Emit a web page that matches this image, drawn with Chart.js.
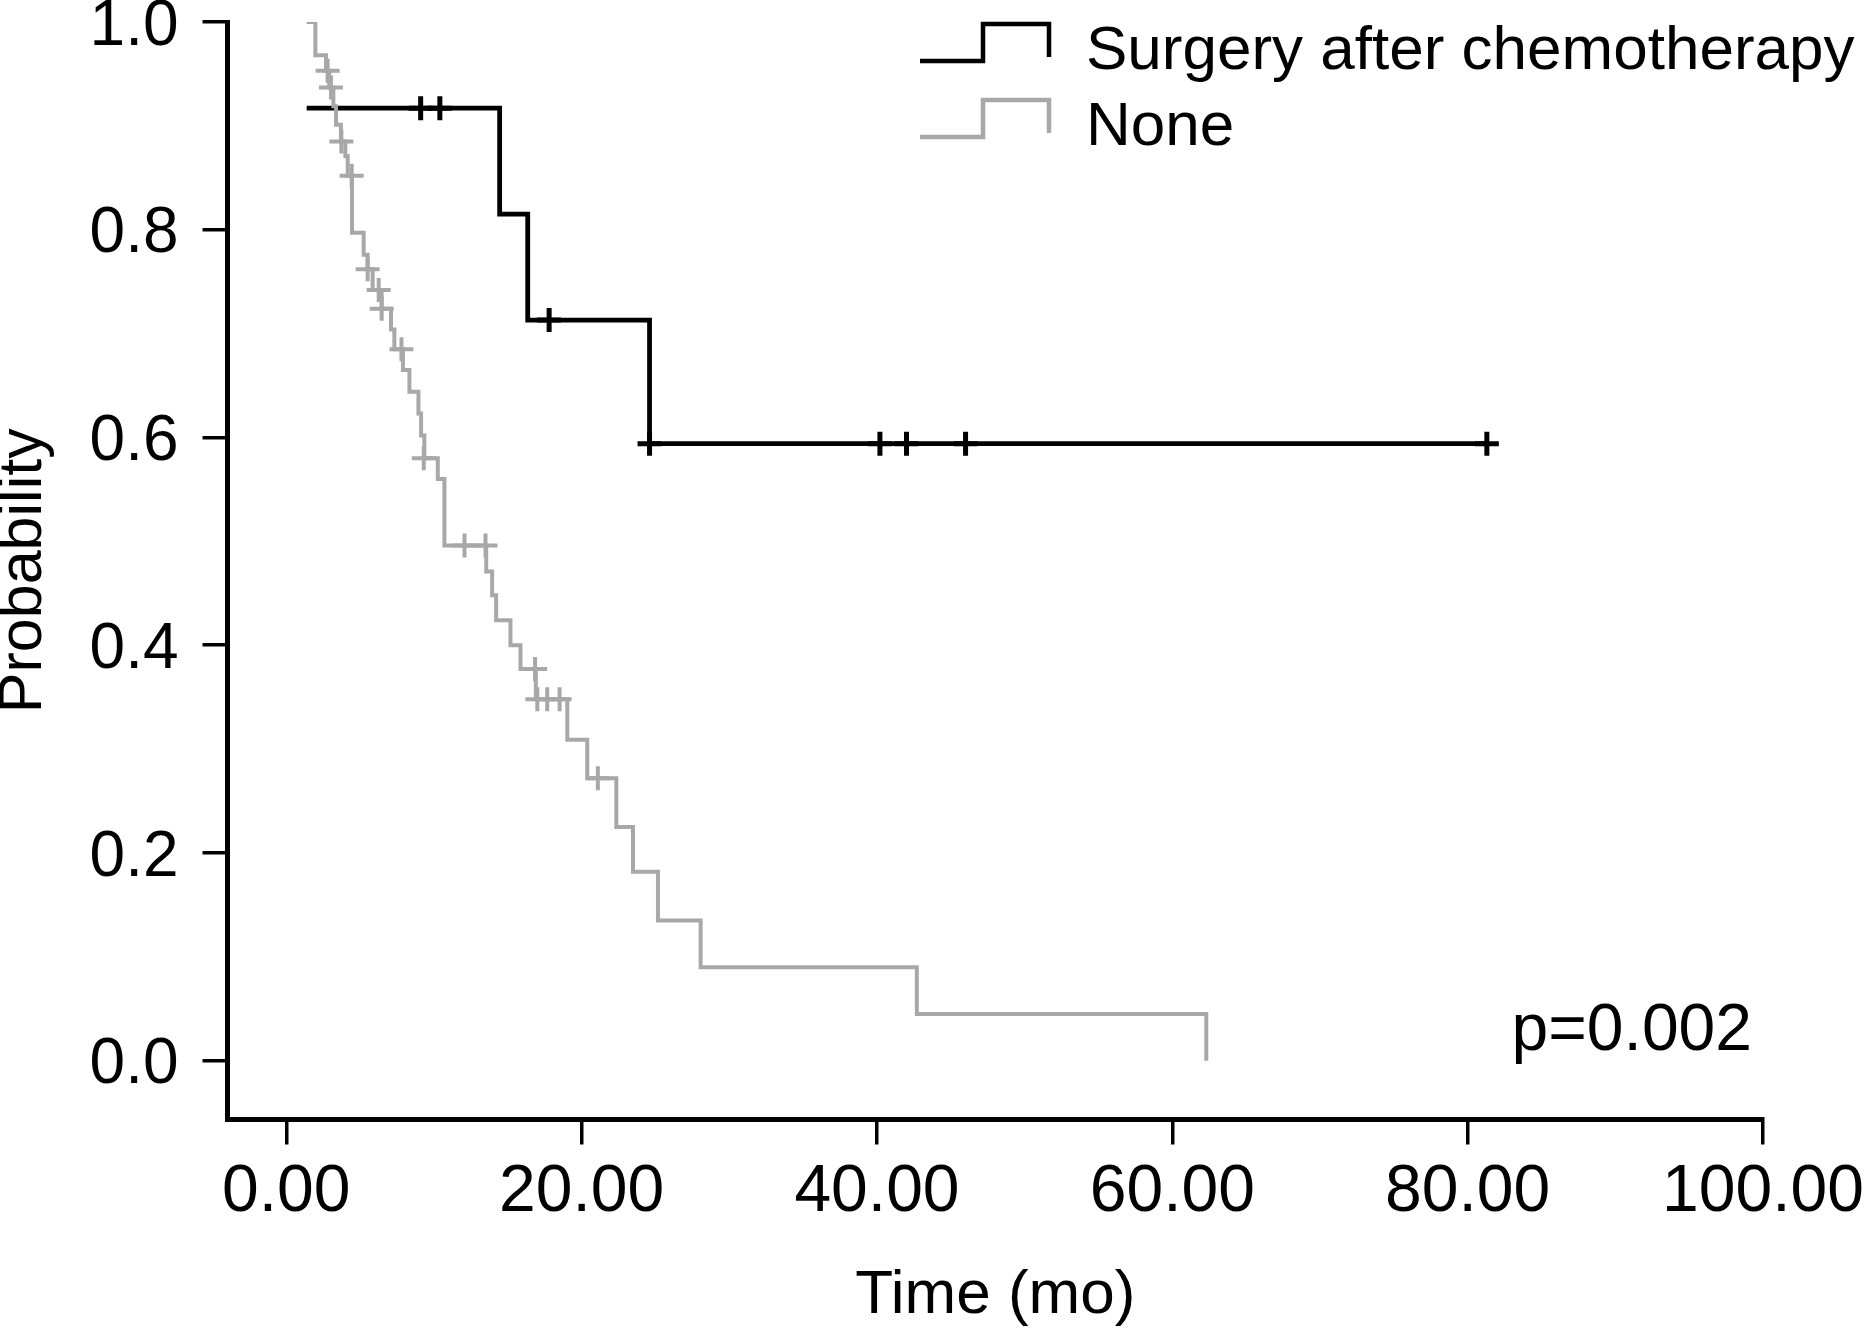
<!DOCTYPE html>
<html>
<head>
<meta charset="utf-8">
<title>Kaplan-Meier: surgery after chemotherapy</title>
<script src="https://cdn.jsdelivr.net/npm/chart.js@4.4.1/dist/chart.umd.min.js"></script>
<style>
  html, body { margin: 0; padding: 0; background: #fff; }
  #wrap { width: 1867px; height: 1330px; position: relative; }
</style>
</head>
<body>
<div id="wrap"><canvas id="km"></canvas></div>
<script>
var groups = ["Surgery after chemotherapy", "None"];
var pValue = "p=0.002";

// surgery after chemotherapy: step times (mo) and survival after each step
var surgeryTime = [1.38, 14.45, 16.35, 24.6, 81.3];
var surgerySurv = [0.917, 0.815, 0.713, 0.594, 0.594];
var surgeryCensorTime = [9.1, 10.4, 17.8, 24.6, 40.2, 42.0, 46.0, 81.3];
var surgeryCensorSurv = [0.917, 0.917, 0.713, 0.594, 0.594, 0.594, 0.594, 0.594];

// no surgery
var noneTime = [1.38, 1.97, 2.69, 2.91, 3.19, 3.37, 3.70, 4.00, 4.16, 4.45, 5.24, 5.51, 5.85,
                6.46, 7.09, 7.32, 7.90, 8.34, 8.95, 9.13, 9.35, 10.26, 10.71, 13.54, 13.94,
                14.21, 15.18, 15.86, 16.9, 19.03, 20.38, 22.35, 23.48, 25.17, 28.06, 42.7, 62.3];
var noneSurv = [1.0, 0.968, 0.953, 0.937, 0.919, 0.901, 0.885, 0.871, 0.852, 0.797, 0.776, 0.762, 0.742,
                0.724, 0.704, 0.685, 0.665, 0.644, 0.623, 0.602, 0.580, 0.560, 0.496, 0.471, 0.448,
                0.424, 0.400, 0.377, 0.348, 0.309, 0.272, 0.225, 0.182, 0.135, 0.090, 0.045, 0.0];
var noneCensorTime = [2.80, 3.03, 3.73, 4.43, 5.51, 6.26, 6.46, 7.80, 9.31, 12.07, 13.49,
                      16.85, 17.0, 17.67, 18.51, 21.1];
var noneCensorSurv = [0.953, 0.937, 0.885, 0.852, 0.762, 0.742, 0.724, 0.685, 0.580, 0.496, 0.496,
                      0.377, 0.348, 0.348, 0.348, 0.272];

var xTicks = [0, 20, 40, 60, 80, 100];
var yTicks = [0, 0.2, 0.4, 0.6, 0.8, 1.0];

var black = "#000000";
var grey = "#a8a8a8";
var fontFam = '"Liberation Sans", Arial, sans-serif';

function pts(xs, ys) {
    return xs.map(function (x, i) { return { x: x, y: ys[i] }; });
}

// legend with step icons + p value, drawn on the canvas
var kmLegend = {
    id: "kmLegend",
    afterDraw: function (chart) {
        var ctx = chart.ctx;
        var colors = [black, grey];
        ctx.save();
        for (var r = 0; r < groups.length; r++) {
            var top = 24 + 76 * r, bot = 61 + 76 * r;
            ctx.strokeStyle = colors[r];
            ctx.lineWidth = 4.5;
            ctx.beginPath();
            ctx.moveTo(920, bot);
            ctx.lineTo(983, bot);
            ctx.lineTo(983, top);
            ctx.lineTo(1049, top);
            ctx.lineTo(1049, bot - 4);
            ctx.stroke();
            ctx.fillStyle = black;
            ctx.font = "62px " + fontFam;
            ctx.textAlign = "left";
            ctx.textBaseline = "alphabetic";
            ctx.fillText(groups[r], 1086, 69 + 76 * r);
        }
        ctx.font = "66px " + fontFam;
        ctx.textAlign = "right";
        ctx.fillText(pValue, 1752, 1050);
        ctx.restore();
    }
};

var chart = new Chart(document.getElementById("km"), {
    type: "scatter",
    data: {
        datasets: [
            {
                label: groups[1],
                data: pts(noneTime, noneSurv),
                showLine: true, stepped: true,
                borderColor: grey, borderWidth: 4,
                pointRadius: 0, fill: false
            },
            {
                label: groups[1] + " censored",
                data: pts(noneCensorTime, noneCensorSurv),
                showLine: false, pointStyle: "cross",
                pointRadius: 12, pointBorderWidth: 4,
                pointBorderColor: grey, pointBackgroundColor: grey
            },
            {
                label: groups[0],
                data: pts(surgeryTime, surgerySurv),
                showLine: true, stepped: true,
                borderColor: black, borderWidth: 4.8,
                pointRadius: 0, fill: false
            },
            {
                label: groups[0] + " censored",
                data: pts(surgeryCensorTime, surgeryCensorSurv),
                showLine: false, pointStyle: "cross",
                pointRadius: 12, pointBorderWidth: 5,
                pointBorderColor: black, pointBackgroundColor: black
            }
        ]
    },
    options: {
        responsive: true,
        maintainAspectRatio: false,
        animation: false,
        layout: { padding: { top: 22, right: 104, left: 0, bottom: 0 } },
        plugins: {
            legend: { display: false },
            tooltip: { enabled: false }
        },
        scales: {
            x: {
                type: "linear",
                min: -3.98, max: 100,
                afterBuildTicks: function (s) { s.ticks = xTicks.map(function (v) { return { value: v }; }); },
                afterFit: function (s) { s.height = 210.5; s.paddingLeft = 0; s.paddingRight = 0; },
                ticks: {
                    autoSkip: false, maxRotation: 0, minRotation: 0,
                    padding: 9, color: black,
                    font: { family: fontFam, size: 66 },
                    callback: function (v) { return Number(v).toFixed(2); }
                },
                grid: { display: true, drawOnChartArea: false, drawTicks: true, tickLength: 25, lineWidth: 3.5, color: black },
                border: { display: true, width: 5, color: black },
                title: {
                    display: true, text: "Time (mo)", color: black,
                    font: { family: fontFam, size: 62, lineHeight: 1 },
                    padding: { top: 0, bottom: 3 }
                }
            },
            y: {
                type: "linear",
                min: -0.0566, max: 1.0,
                afterBuildTicks: function (s) { s.ticks = yTicks.map(function (v) { return { value: v }; }); },
                afterFit: function (s) { s.width = 227.5; s.paddingTop = 0; s.paddingBottom = 0; },
                ticks: {
                    padding: 24, labelOffset: 5, color: black,
                    font: { family: fontFam, size: 64 },
                    callback: function (v) { return Number(v).toFixed(1); }
                },
                grid: { display: true, drawOnChartArea: false, drawTicks: true, tickLength: 25, lineWidth: 3.5, color: black },
                border: { display: true, width: 5, color: black },
                title: {
                    display: true, text: "Probability", color: black,
                    font: { family: fontFam, size: 61, lineHeight: 1 },
                    padding: { top: -6, bottom: 0 }
                }
            }
        }
    },
    plugins: [kmLegend]
});
</script>
</body>
</html>
